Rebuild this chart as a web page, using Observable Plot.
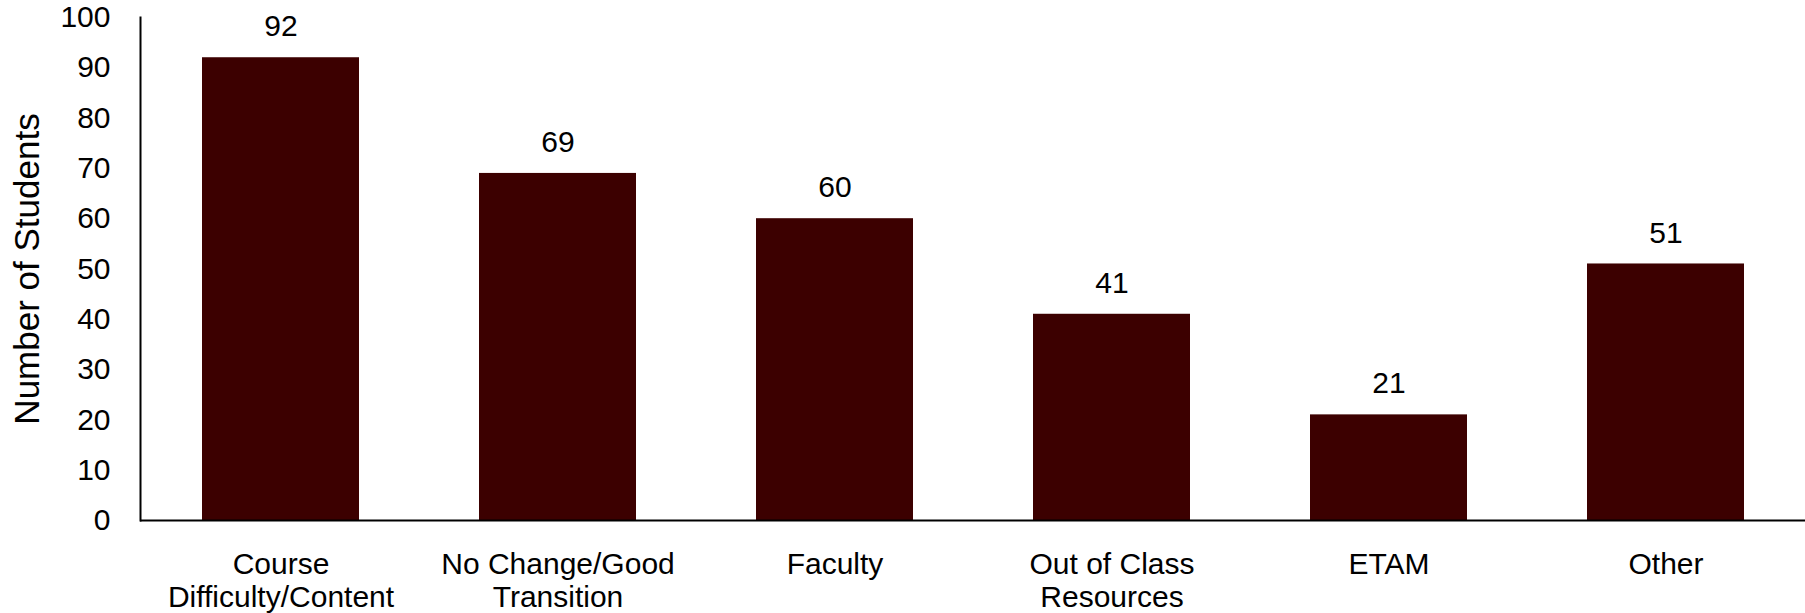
<!DOCTYPE html>
<html>
<head>
<meta charset="utf-8">
<script src="https://cdn.jsdelivr.net/npm/d3@7"></script>
<script src="https://cdn.jsdelivr.net/npm/@observablehq/plot@0.6"></script>
<style>
  html, body { margin: 0; padding: 0; background: #fff; }
  #chart svg { display: block; }
</style>
</head>
<body>
<div id="chart"></div>
<script>
const categories = ["Course Difficulty/Content", "No Change/Good Transition", "Faculty", "Out of Class Resources", "ETAM", "Other"];
const tickLabels = ["Course\nDifficulty/Content", "No Change/Good\nTransition", "Faculty", "Out of Class\nResources", "ETAM", "Other"];
const counts = [92, 69, 60, 41, 21, 51];
const yTicks = [0, 10, 20, 30, 40, 50, 60, 70, 80, 90, 100];
const yLabel = "Number of Students";

const data = categories.map((c, i) => ({category: c, count: counts[i]}));
const labelOf = new Map(categories.map((c, i) => [c, tickLabels[i]]));

const chart = Plot.plot({
  width: 1805,
  height: 613,
  marginLeft: 140,
  marginRight: 0,
  marginTop: 17,
  marginBottom: 93,
  style: {fontFamily: "'Liberation Sans', Arial, sans-serif", fontSize: "30px", color: "#000", background: "#fff"},
  x: {domain: categories, paddingInner: 0.434, paddingOuter: 0.217},
  y: {domain: [0, 100]},
  marks: [
    Plot.barY(data, {x: "category", y: "count", fill: "#3c0000"}),
    Plot.text(data, {x: "category", y: "count", text: d => String(d.count), dy: -31, fontSize: 30, fill: "#000"}),
    Plot.axisY({ticks: yTicks, tickSize: 0, tickPadding: 30, fontSize: 30, label: null}),
    Plot.axisY({ticks: [], tickSize: 0, fontSize: 35, label: yLabel, labelAnchor: "center", labelOffset: 126, labelArrow: "none"}),
    Plot.axisX({tickSize: 0, tickPadding: 30, fontSize: 30, lineHeight: 1.1, tickFormat: d => labelOf.get(d), label: null}),
    Plot.ruleY([0], {stroke: "#000", strokeWidth: 2}),
    Plot.frame({anchor: "left", stroke: "#000", strokeWidth: 2})
  ]
});
document.getElementById("chart").appendChild(chart);
</script>
</body>
</html>
